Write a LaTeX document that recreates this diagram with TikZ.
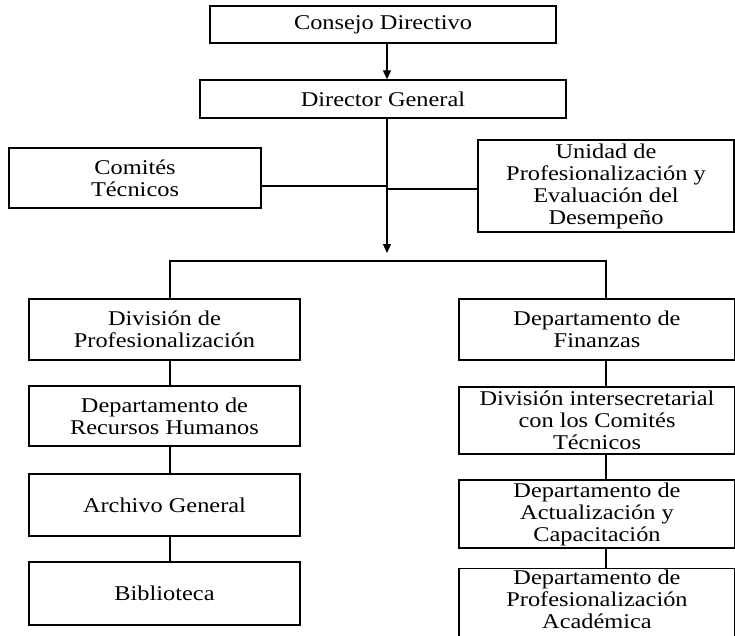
\documentclass[tikz,border=0pt]{standalone}
\usepackage{fontspec}
\setmainfont{Liberation Serif}[FakeStretch=1.16]
\usetikzlibrary{arrows.meta}
\begin{document}
\begin{tikzpicture}[x=1pt,y=-1pt,
  box/.style={draw, line width=1.4pt, align=center, inner sep=1pt,
    font=\fontsize{21}{22}\selectfont},
  conn/.style={line width=1.2pt},
  arr/.style={line width=1.2pt, -{Triangle[width=8pt,length=9pt]}}]
\useasboundingbox (0,0) rectangle (735,635);
\clip (0,0) rectangle (735,635);
% top
\node[box, minimum width=346pt, minimum height=37pt] (cd) at (383,24.5) {Consejo Directivo};
\node[box, minimum width=366pt, minimum height=38pt] (dg) at (383,99) {Director General};
\node[box, minimum width=252pt, minimum height=60pt] (ct) at (135,178) {Comités\\Técnicos};
\node[box, minimum width=256pt, minimum height=92pt] (up) at (606,186) {Unidad de\\Profesionalización y\\Evaluación del\\Desempeño};
% left column
\node[box, minimum width=271pt, minimum height=61pt] (dp) at (164.5,329.5) {División de\\Profesionalización};
\node[box, minimum width=271pt, minimum height=60pt] (rh) at (164.5,416) {Departamento de\\Recursos Humanos};
\node[box, minimum width=271pt, minimum height=62pt] (ag) at (164.5,505) {Archivo General};
\node[box, minimum width=271pt, minimum height=63pt] (bi) at (164.5,593.5) {Biblioteca};
% right column
\node[box, minimum width=276pt, minimum height=61pt] (df) at (597,329.5) {Departamento de\\Finanzas};
\node[box, minimum width=276pt, minimum height=67pt] (di) at (597,420.5) {División intersecretarial\\con los Comités\\Técnicos};
\node[box, minimum width=276pt, minimum height=68pt] (da) at (597,514) {Departamento de\\Actualización y\\Capacitación};
\node[box, minimum width=276pt, minimum height=92pt, anchor=north] (pa) at (597,568) {Departamento de\\Profesionalización\\Académica\\[14pt]};
% connectors
\coordinate (tip) at (387,253);
\coordinate (busL) at (170,261);
\coordinate (busR) at (606,261);
\draw[arr] (cd.south -| 387,0) -- (dg.north -| 387,0);
\draw[arr] (dg.south -| 387,0) -- (tip);
\draw[conn] (ct.east |- 0,186) -- (387,186);
\draw[conn] (387,189) -- (up.west |- 0,189);
\draw[conn] (busL |- dp.north) -- (busL) -- (busR) -- (busR |- df.north);
\draw[conn] (busL |- dp.south) -- (busL |- rh.north);
\draw[conn] (busL |- rh.south) -- (busL |- ag.north);
\draw[conn] (busL |- ag.south) -- (busL |- bi.north);
\draw[conn] (busR |- df.south) -- (busR |- di.north);
\draw[conn] (busR |- di.south) -- (busR |- da.north);
\draw[conn] (busR |- da.south) -- (busR |- pa.north);
\end{tikzpicture}
\end{document}
